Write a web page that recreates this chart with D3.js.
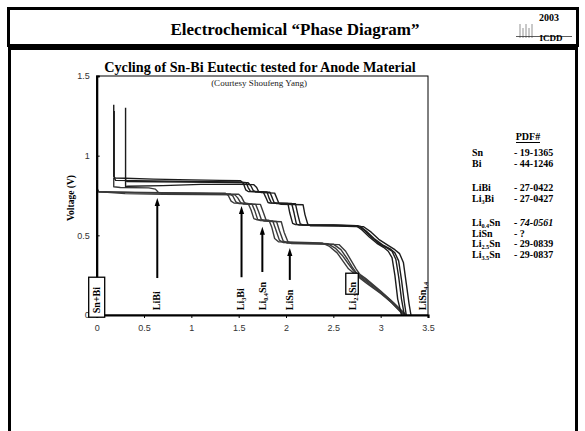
<!DOCTYPE html>
<html>
<head>
<meta charset="utf-8">
<script src="https://cdn.jsdelivr.net/npm/d3@7"></script>
<style>
  body { margin: 0; background: #fff; }
  svg { display: block; }
</style>
</head>
<body>
<div class="chart"></div>
<script>
// capacity (x) vs voltage (V)
const curveA1 = [[0.18,1.32],[0.18,0.87],[0.195,0.86],[0.3,0.858],[0.6,0.853],[1.0,0.848],[1.3,0.845],[1.52,0.843],[1.55,0.825],[1.575,0.785],[1.6,0.775],[1.76,0.772],[1.785,0.74],[1.81,0.706],[1.83,0.703],[2.02,0.7],[2.04,0.64],[2.07,0.575],[2.1,0.567],[2.5,0.565],[2.74,0.56],[2.8,0.535],[2.88,0.49],[2.96,0.45],[3.03,0.425],[3.08,0.4],[3.12,0.36],[3.15,0.25],[3.18,0.1],[3.22,0]];
const curveA2 = [[0.185,1.28],[0.185,0.86],[0.2,0.845],[0.6,0.842],[1.0,0.838],[1.5,0.835],[1.58,0.83],[1.6,0.8],[1.625,0.776],[1.8,0.772],[1.82,0.735],[1.845,0.704],[2.06,0.7],[2.085,0.64],[2.11,0.57],[2.14,0.565],[2.76,0.56],[2.83,0.53],[2.9,0.49],[2.99,0.445],[3.07,0.42],[3.12,0.4],[3.16,0.35],[3.19,0.24],[3.22,0.1],[3.25,0]];
const curveA3 = [[0.305,1.3],[0.305,0.85],[0.32,0.838],[0.6,0.836],[1.0,0.834],[1.4,0.832],[1.6,0.83],[1.63,0.81],[1.655,0.78],[1.68,0.773],[1.83,0.77],[1.855,0.735],[1.875,0.705],[1.9,0.7],[2.1,0.698],[2.125,0.63],[2.15,0.572],[2.18,0.565],[2.5,0.563],[2.78,0.558],[2.85,0.525],[2.93,0.48],[3.02,0.44],[3.1,0.415],[3.15,0.39],[3.19,0.34],[3.22,0.22],[3.25,0.08],[3.27,0]];
const curveA4 = [[0.305,0.85],[0.305,0.805],[0.33,0.808],[0.7,0.812],[1.1,0.82],[1.5,0.82],[1.66,0.818],[1.69,0.8],[1.71,0.775],[1.74,0.768],[1.88,0.765],[1.905,0.73],[1.925,0.7],[1.95,0.695],[2.18,0.692],[2.2,0.63],[2.23,0.57],[2.26,0.56],[2.55,0.558],[2.82,0.554],[2.9,0.52],[2.98,0.475],[3.07,0.44],[3.15,0.41],[3.2,0.385],[3.24,0.33],[3.27,0.2],[3.3,0.07],[3.32,0]];
const curveB1 = [[0,0.94],[0,0.78],[0.03,0.772],[0.3,0.77],[0.7,0.768],[1.1,0.766],[1.36,0.764],[1.39,0.75],[1.42,0.715],[1.45,0.703],[1.6,0.7],[1.63,0.66],[1.66,0.605],[1.69,0.598],[1.82,0.595],[1.85,0.55],[1.88,0.48],[1.92,0.46],[2.1,0.457],[2.38,0.452],[2.46,0.43],[2.54,0.39],[2.6,0.34],[2.66,0.29],[2.72,0.26],[2.85,0.2],[3.0,0.135],[3.12,0.075],[3.24,0]];
const curveB2 = [[0,0.8],[0.02,0.775],[0.4,0.768],[0.8,0.764],[1.2,0.762],[1.41,0.76],[1.44,0.745],[1.47,0.71],[1.5,0.7],[1.64,0.697],[1.67,0.655],[1.7,0.6],[1.73,0.592],[1.86,0.59],[1.89,0.54],[1.93,0.47],[1.97,0.455],[2.2,0.452],[2.44,0.448],[2.52,0.42],[2.6,0.37],[2.66,0.32],[2.71,0.28],[2.76,0.25],[2.9,0.185],[3.05,0.115],[3.25,0]];
const curveB3 = [[0,0.775],[0.3,0.762],[0.7,0.758],[1.1,0.756],[1.46,0.754],[1.49,0.735],[1.52,0.705],[1.55,0.697],[1.68,0.694],[1.71,0.65],[1.74,0.598],[1.77,0.59],[1.9,0.587],[1.93,0.53],[1.97,0.465],[2.01,0.452],[2.3,0.448],[2.5,0.445],[2.58,0.41],[2.65,0.35],[2.7,0.3],[2.75,0.26],[2.8,0.24],[2.95,0.17],[3.1,0.095],[3.26,0]];
const curveB4 = [[0.18,0.86],[0.18,0.805],[0.25,0.8],[0.55,0.798],[0.62,0.79],[0.65,0.77],[0.7,0.762],[1.1,0.76],[1.5,0.758],[1.53,0.74],[1.56,0.705],[1.59,0.697],[1.73,0.694],[1.76,0.645],[1.79,0.595],[1.82,0.588],[1.95,0.585],[1.98,0.52],[2.02,0.46],[2.06,0.448],[2.35,0.445],[2.56,0.442],[2.63,0.4],[2.69,0.34],[2.74,0.29],[2.78,0.255],[2.84,0.23],[3.0,0.15],[3.14,0.075],[3.27,0]];

const xTicks = [0, 0.5, 1, 1.5, 2, 2.5, 3, 3.5];
const yTicks = [0, 0.5, 1, 1.5];

// phase labels along the bottom: [x position, label parts]
const phaseLabels = [
  { x: 0.0,  parts: [["Sn+Bi"]], box: true },
  { x: 0.635, parts: [["LiBi"]] },
  { x: 1.52, parts: [["Li"], ["3", 1], ["Bi"]] },
  { x: 1.75, parts: [["Li"], ["0.4", 1], ["Sn"]] },
  { x: 2.035, parts: [["LiSn"]] },
  { x: 2.70, parts: [["Li"], ["2.5", 1], ["Sn"]], box2: true },
  { x: 3.445, parts: [["LiSn"], ["4.4", 1]] }
];
// arrows: x, tip voltage, base voltage
const arrowX = [0.64, 1.53, 1.75, 2.04];
const arrowTip = [0.734, 0.684, 0.554, 0.42];
const arrowBase = [0.232, 0.237, 0.27, 0.22];

const pdfPhases = [[["Sn"]], [["Bi"]], [["LiBi"]], [["Li"], ["3", 1], ["Bi"]], [["Li"], ["0.4", 1], ["Sn"]], [["LiSn"]], [["Li"], ["2.5", 1], ["Sn"]], [["Li"], ["3.5", 1], ["Sn"]]];
const pdfNumbers = ["- 19-1365", "- 44-1246", "- 27-0422", "- 27-0427", "- 74-0561", "- ?", "- 29-0839", "- 29-0837"];
const pdfGroups = [0, 0, 1, 1, 2, 2, 2, 2];

const width = 585, height = 431;
const serif = "'Liberation Serif', 'Times New Roman', serif";
const sans = "'Liberation Sans', Arial, sans-serif";
const plot = { left: 96.7, right: 428, top: 76, bottom: 315 };

const svg = d3.select(".chart").append("svg")
  .attr("width", width).attr("height", height);
svg.append("rect").attr("width", width).attr("height", height).attr("fill", "#fff");

// slide frame
svg.append("rect").attr("x", 8.5).attr("y", 8.5).attr("width", 569).attr("height", 37)
  .attr("fill", "none").attr("stroke", "#000").attr("stroke-width", 3);
svg.append("path").attr("d", `M9.5,${height + 2}V48.5H576.5V${height + 2}`)
  .attr("fill", "none").attr("stroke", "#000").attr("stroke-width", 3);

svg.append("text").attr("x", 295).attr("y", 35).attr("text-anchor", "middle")
  .attr("font-family", serif).attr("font-weight", "bold").attr("font-size", 17)
  .text("Electrochemical \u201cPhase Diagram\u201d");

// ICDD logo
const logo = svg.append("g").attr("stroke", "#777").attr("stroke-width", 0.8);
[520, 523, 526, 529, 532].forEach((lx, k) => {
  logo.append("line").attr("x1", lx).attr("x2", lx).attr("y1", 24 + (k % 2) * 4).attr("y2", 38);
});
logo.append("line").attr("x1", 516).attr("x2", 572).attr("y1", 36.5).attr("y2", 36.5).attr("stroke", "#333");
svg.append("text").attr("x", 549).attr("y", 21).attr("text-anchor", "middle")
  .attr("font-family", serif).attr("font-weight", "bold").attr("font-size", 10).text("2003");
svg.append("text").attr("x", 551).attr("y", 41).attr("text-anchor", "middle")
  .attr("font-family", serif).attr("font-weight", "bold").attr("font-size", 9).text("ICDD");

const x = d3.scaleLinear().domain([0, 3.5]).range([plot.left, plot.right]);
const y = d3.scaleLinear().domain([0, 1.5]).range([plot.bottom, plot.top]);

function rich(sel, parts, size) {
  let shifted = false;
  parts.forEach(p => {
    const t = sel.append("tspan").text(p[0]);
    if (p[1] && !shifted) {
      t.attr("font-size", size * 0.62).attr("dy", size * 0.22);
      shifted = true;
    } else if (!p[1] && shifted) {
      t.attr("dy", -size * 0.22);
      shifted = false;
    }
  });
}

// chart titles
svg.append("text").attr("x", 260).attr("y", 72).attr("text-anchor", "middle")
  .attr("font-family", serif).attr("font-weight", "bold").attr("font-size", 14.2)
  .text("Cycling of Sn-Bi Eutectic tested for Anode Material");
svg.append("text").attr("x", 259).attr("y", 86).attr("text-anchor", "middle")
  .attr("font-family", serif).attr("font-size", 9).attr("fill", "#222")
  .text("(Courtesy Shoufeng Yang)");

// plot frame
svg.append("rect").attr("x", plot.left).attr("y", plot.top)
  .attr("width", plot.right - plot.left).attr("height", plot.bottom - plot.top)
  .attr("fill", "none").attr("stroke", "#000").attr("stroke-width", 1);

// curves
const line = d3.line().x(d => x(d[0])).y(d => y(d[1]));
const curves = [curveB1, curveB2, curveB3, curveB4, curveA1, curveA2, curveA3, curveA4];
svg.append("g").selectAll("path").data(curves).join("path")
  .attr("d", line)
  .attr("fill", "none")
  .attr("stroke", (d, k) => k < 4 ? "#3a3a3a" : "#1c1c1c")
  .attr("stroke-width", 1.4)
  .attr("stroke-linejoin", "round");

// axes
const xAxis = svg.append("g").attr("transform", `translate(0,${plot.bottom})`)
  .call(d3.axisBottom(x).tickValues(xTicks).tickSize(3).tickPadding(6.5).tickFormat(d => d));
const yAxis = svg.append("g").attr("transform", `translate(${plot.left},0)`)
  .call(d3.axisLeft(y).tickValues(yTicks).tickSize(-3).tickPadding(7).tickFormat(d => d));
[xAxis, yAxis].forEach(a => {
  a.select(".domain").attr("stroke-width", 2.2).attr("stroke", "#000");
  a.selectAll("text").attr("font-family", sans).attr("font-size", 9).attr("fill", "#333");
});

svg.append("text")
  .attr("transform", `translate(71,198) rotate(-90)`)
  .attr("text-anchor", "middle").attr("dy", "0.35em")
  .attr("font-family", serif).attr("font-weight", "bold").attr("font-size", 9.5)
  .text("Voltage (V)");

// arrows
const arrows = svg.append("g");
arrowX.forEach((ax, k) => {
  const px = x(ax), tip = y(arrowTip[k]), base = y(arrowBase[k]);
  arrows.append("line").attr("x1", px).attr("x2", px).attr("y1", base).attr("y2", tip + 6)
    .attr("stroke", "#000").attr("stroke-width", 2);
  arrows.append("path").attr("d", `M${px},${tip}L${px - 2.6},${tip + 8}L${px + 2.6},${tip + 8}Z`)
    .attr("fill", "#000");
});

// phase labels
const labelBase = y(0.03);
phaseLabels.forEach(p => {
  const px = x(p.x);
  if (p.box) {
    svg.append("rect").attr("x", px - 8).attr("y", labelBase - 33).attr("width", 16).attr("height", 40)
      .attr("fill", "#fff").attr("stroke", "#000").attr("stroke-width", 1.3);
  }
  if (p.box2) {
    svg.append("rect").attr("x", px - 6.5).attr("y", labelBase - 37).attr("width", 12.5).attr("height", 21)
      .attr("fill", "#fff").attr("stroke", "#000").attr("stroke-width", 1.3);
  }
  const t = svg.append("text")
    .attr("transform", `translate(${px},${p.box ? labelBase + 3 : labelBase}) rotate(-90)`)
    .attr("dy", "0.35em")
    .attr("font-family", serif).attr("font-weight", "bold").attr("font-size", 10);
  rich(t, p.parts, 10);
});

// PDF# table
svg.append("text").attr("x", 528).attr("y", 140).attr("text-anchor", "middle")
  .attr("font-family", serif).attr("font-weight", "bold").attr("font-size", 10).text("PDF#");
svg.append("line").attr("x1", 516).attr("x2", 540).attr("y1", 142.5).attr("y2", 142.5)
  .attr("stroke", "#000").attr("stroke-width", 1);
pdfPhases.forEach((parts, k) => {
  const ry = 152.5 + k * 10.7 + pdfGroups[k] * 13.5;
  const t = svg.append("text").attr("x", 472).attr("y", ry).attr("dy", "0.35em")
    .attr("font-family", serif).attr("font-weight", "bold").attr("font-size", 10);
  rich(t, parts, 10);
  svg.append("text").attr("x", 514).attr("y", ry).attr("dy", "0.35em")
    .attr("font-family", serif).attr("font-weight", "bold").attr("font-size", 10)
    .attr("font-style", k === 4 ? "italic" : "normal")
    .text(pdfNumbers[k]);
});
</script>
</body>
</html>
